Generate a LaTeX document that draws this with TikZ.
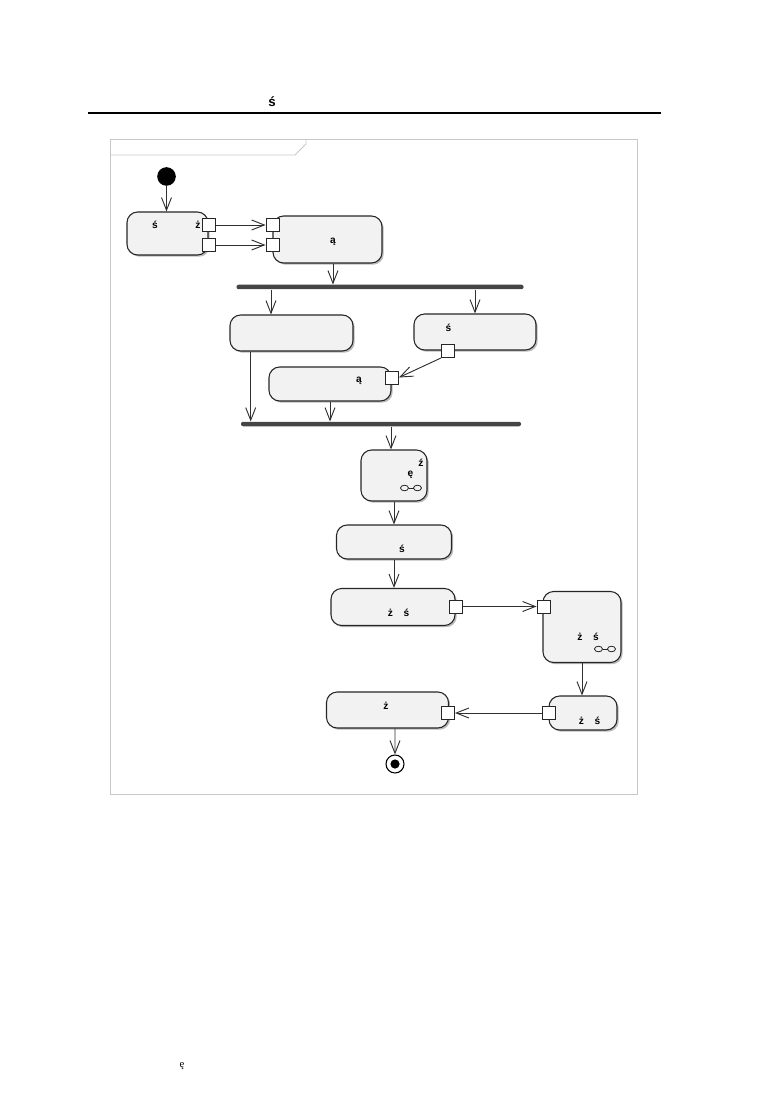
\documentclass[tikz,border=0pt]{standalone}
\usepackage{fontspec}
\setmainfont{Liberation Sans}
\newfontfamily\footserif{Liberation Serif}
\usetikzlibrary{arrows.meta,shadows}
\definecolor{actfill}{HTML}{F2F2F2}
\definecolor{barcol}{HTML}{454545}
\definecolor{framecol}{HTML}{C8C8C8}
\definecolor{linecol}{HTML}{303030}
\begin{document}
\begin{tikzpicture}[x=0.75pt,y=-0.75pt,
  act/.style={draw=black!85, line width=0.8pt, fill=actfill, rounded corners=8pt, inner sep=0pt,
    drop shadow={shadow xshift=1.3pt, shadow yshift=-1.3pt, fill=black!45, opacity=0.6}},
  sz/.style 2 args={minimum width=#1*0.75pt, minimum height=#2*0.75pt},
  pin/.style={draw=black!85, line width=0.7pt, fill=white, minimum size=9.75pt, inner sep=0pt},
  flow/.style={draw=linecol, line width=0.7pt, -{Straight Barb[length=9.5pt,width=7.5pt,line width=0.7pt]}},
  bar/.style={fill=barcol, rounded corners=1.5pt, inner sep=0pt},
  lbl/.style={font=\bfseries\fontsize{7.6}{9}\selectfont, inner sep=0pt},
  rake/.style={draw=black!85, line width=0.6pt},
]
\useasboundingbox (0,0) rectangle (774,1094);

% header
\node[font=\bfseries\fontsize{10}{12}\selectfont, inner sep=0pt] (hs) at (272,102) {ś};
\draw[line width=1.5pt] (88,113.5) -- (661,113.5);

% frame with tab
\draw[framecol, line width=0.7pt] (110,139) rectangle (637,794);
\draw[framecol, line width=0.7pt] (110,155) -- (295,155) -- (306,144) -- (306,139);

% initial node
\node[circle, fill=black, minimum size=18.6*0.75pt, inner sep=0pt] (init) at (166.5,176.5) {};

% activities
\node[act, sz={81}{43}]  (A) at (167.5,233.5) {};
\node[act, sz={109}{47}] (B) at (327.5,239.5) {};
\node[act, sz={123}{36}] (C) at (291.5,333) {};
\node[act, sz={122}{36}] (D) at (475,332) {};
\node[act, sz={122}{34}] (E) at (330,384) {};
\node[act, sz={66}{51}]  (F) at (394,475.5) {};
\node[act, sz={115}{34}] (G) at (394,542) {};
\node[act, sz={124}{37}] (H) at (393,607) {};
\node[act, sz={78}{71}]  (I) at (582,627) {};
\node[act, sz={68}{34}]  (J) at (583,713) {};
\node[act, sz={122}{36}] (K) at (387.5,710) {};

% bars
\node[bar, sz={287}{4.5}] (bar1) at (380,287) {};
\node[bar, sz={280}{4.5}] (bar2) at (381,424) {};

% pins
\node[pin] (pa1) at (209,225) {};
\node[pin] (pa2) at (209,245) {};
\node[pin] (pb1) at (272.5,225) {};
\node[pin] (pb2) at (272.5,245) {};
\node[pin] (pd)  at (448,351) {};
\node[pin] (pe)  at (392,377.5) {};
\node[pin] (ph)  at (456,606.5) {};
\node[pin] (pi)  at (543.5,606.5) {};
\node[pin] (pj)  at (549,713) {};
\node[pin] (pk)  at (448,713) {};

% final node
\node[circle, draw=black, line width=0.8pt, fill=white, minimum size=18*0.75pt, inner sep=0pt] (final) at (395,764) {};
\fill[black] (final.center) circle[radius=4.6];

% labels
\node[lbl] (la1) at (155,225) {ś};
\node[lbl] (la2) at (198,225) {ż};
\node[lbl] (lb)  at (333,242) {ą};
\node[lbl] (ld)  at (448.5,327.5) {ś};
\node[lbl] (le)  at (359,381) {ą};
\node[lbl] (lf1) at (421,463) {ź};
\node[lbl] (lf2) at (410.5,475) {ę};
\node[lbl] (lg)  at (402,549) {ś};
\node[lbl] (lh1) at (390.5,612.5) {ż};
\node[lbl] (lh2) at (406.5,612.5) {ś};
\node[lbl] (li1) at (580,637) {ż};
\node[lbl] (li2) at (596,637) {ś};
\node[lbl] (lj1) at (581.5,720.5) {ż};
\node[lbl] (lj2) at (597.5,720.5) {ś};
\node[lbl] (lk)  at (386,705.5) {ż};

% rake icons
\draw[rake] (404.5,488) ellipse[x radius=4, y radius=2.8];
\draw[rake] (417.5,488) ellipse[x radius=4, y radius=2.8];
\draw[rake] (408.5,488) -- (413.5,488);
\draw[rake] (598.5,649) ellipse[x radius=4, y radius=2.8];
\draw[rake] (611.5,649) ellipse[x radius=4, y radius=2.8];
\draw[rake] (602.5,649) -- (607.5,649);

% connectors
\draw[flow] (init) -- (init |- A.north);
\draw[flow] (pa1.east) -- (pb1.west);
\draw[flow] (pa2.east) -- (pb2.west);
\draw[flow] ([xshift=4.1pt]B.south) -- ([xshift=4.1pt]B.south |- bar1.north);
\draw[flow] ([xshift=-15.4pt]C.north |- bar1.south) -- ([xshift=-15.4pt]C.north);
\draw[flow] (D.north |- bar1.south) -- (D.north);
\draw[flow] (pd.south west) -- (pe.east);
\draw[flow] ([xshift=-30.6pt]C.south) -- ([xshift=-30.6pt]C.south |- bar2.north);
\draw[flow] (E.south) -- (E.south |- bar2.north);
\draw[flow] ([xshift=-2.25pt]F.north |- bar2.south) -- ([xshift=-2.25pt]F.north);
\draw[flow] (F.south) -- (F.south |- G.north);
\draw[flow] (G.south) -- (G.south |- H.north);
\draw[flow] (ph.east) -- (pi.west);
\draw[flow] (I.south) -- (I.south |- J.north);
\draw[flow] (pj.west) -- (pk.east);
\draw[flow] ([xshift=5.6pt]K.south) -- (final.north);

% footer
\node[font=\footserif\fontsize{8}{9}\selectfont, inner sep=0pt] (foot) at (182,1066) {ę};
\end{tikzpicture}
\end{document}
